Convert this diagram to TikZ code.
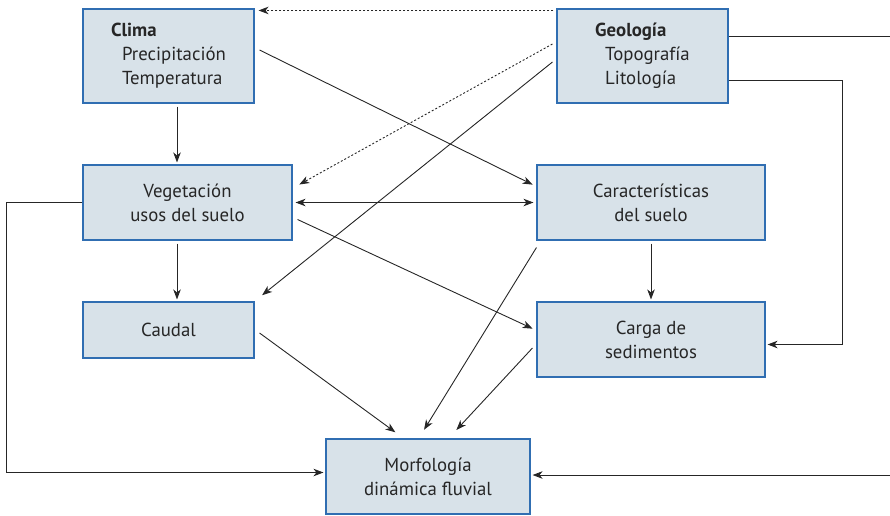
\documentclass[tikz,border=0pt]{standalone}
\usepackage{fontspec}
\setmainfont{PT Sans}
\usetikzlibrary{arrows.meta,positioning}
\definecolor{boxFill}{RGB}{216,226,233}
\definecolor{boxEdge}{RGB}{48,110,178}
\definecolor{inkGray}{RGB}{38,38,38}

\begin{document}
\begin{tikzpicture}[x=1pt,y=-1pt,
  box/.style={draw=boxEdge,fill=boxFill,line width=1.1pt,text=inkGray,
    font=\fontsize{18.8}{24}\selectfont,inner sep=0pt,align=center},
  link/.style={draw=inkGray,line width=0.9pt,shorten >=2pt,
    -{Stealth[length=10pt,width=7.5pt,inset=3pt]}},
  hint/.style={link,dash pattern=on 2pt off 2pt}]

\useasboundingbox (0,0) rectangle (890,515);

% Boxes
\node[box,minimum width=171pt,minimum height=94pt,align=left] (clima) at (168.5,56)
  {\textbf{Clima}\\\hspace{11pt}Precipitación\\\hspace{11pt}Temperatura};
\node[box,minimum width=171pt,minimum height=94pt,align=left] (geo) at (642.5,56)
  {\textbf{Geología}\\\hspace{10pt}Topografía\\\hspace{10pt}Litología};
\node[box,minimum width=209pt,minimum height=75pt] (veg) at (187.5,202.5)
  {Vegetación\\usos del suelo};
\node[box,minimum width=228pt,minimum height=75pt] (suelo) at (651,202.5)
  {Características\\del suelo};
\node[box,minimum width=171pt,minimum height=56pt] (caudal) at (168.5,330)
  {Caudal};
\node[box,minimum width=228pt,minimum height=75pt] (carga) at (651,339.5)
  {Carga de\\sedimentos};
\node[box,minimum width=204pt,minimum height=75pt] (morf) at (428,476.5)
  {Morfología\\dinámica fluvial};

% Dotted links from geology
\draw[hint] ([xshift=-3pt,yshift=-2pt]geo.north west) -- ([xshift=2pt,yshift=-2pt]clima.north east);
\draw[hint] ([xshift=-4pt,yshift=12pt]geo.west) -- ([xshift=5pt,yshift=17pt]veg.east);

% Straight links
\draw[link] ([xshift=-4pt,yshift=-6pt]geo.west) -- ([xshift=6pt,yshift=5pt]caudal.north east);
\draw[link] ([xshift=5pt,yshift=6pt]clima.east) -- ([xshift=-2pt,yshift=17pt]suelo.west);
\draw[link,shorten <=3pt] ([xshift=8.5pt]clima.south) -- ([xshift=-10.5pt]veg.north);
\draw[link,shorten <=3pt] ([xshift=-10.5pt]veg.south) -- ([xshift=8.5pt]caudal.north);
\draw[link,{Stealth[length=10pt,width=7.5pt,inset=3pt]}-{Stealth[length=10pt,width=7.5pt,inset=3pt]},shorten <=3pt,shorten >=3pt]
  (veg.east) -- (suelo.west);
\draw[link] ([xshift=5pt,yshift=-17pt]veg.east) -- ([xshift=-2pt,yshift=10pt]carga.west);
\draw[link,shorten <=3pt] (suelo.south) -- (carga.north);

% Links into the river morphology box
\draw[link] ([xshift=5pt,yshift=-3pt]caudal.east) -- ([xshift=-31pt,yshift=5pt]morf.north);
\draw[link] ([yshift=-7pt]suelo.south west) -- ([xshift=-5pt,yshift=7pt]morf.north);
\draw[link] ([xshift=-4pt,yshift=-8.5pt]carga.west) -- ([xshift=27pt,yshift=7pt]morf.north);
\draw[link] (veg.west) -- ++(-76,0) |- ([yshift=4pt]morf.west);

% Elbow links from geology
\draw[link] ([yshift=20pt]geo.east) -- ++(166,0) |- ([yshift=1.5pt]morf.east);
\draw[link] ([yshift=-24pt]geo.east) -- ++(114,0) |- ([yshift=-5pt]carga.east);

\end{tikzpicture}
\end{document}
